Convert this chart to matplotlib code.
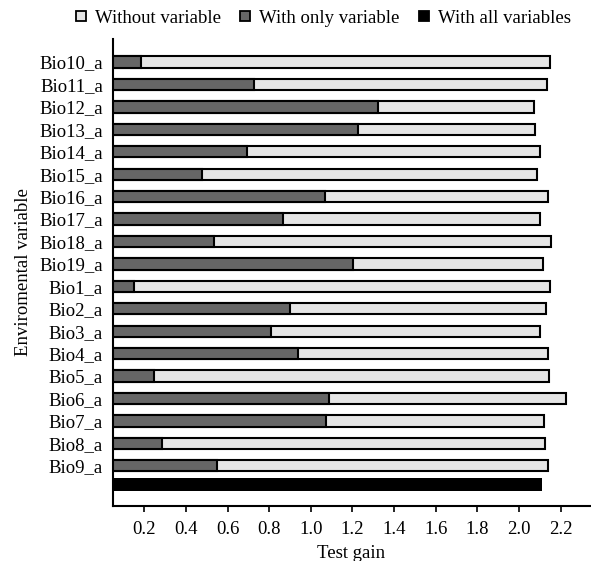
import matplotlib
matplotlib.use("Agg")
import matplotlib.pyplot as plt
from matplotlib.lines import Line2D

plt.rcParams['font.family'] = ['Liberation Serif', 'DejaVu Serif']

# data
variables = ['Bio10_a', 'Bio11_a', 'Bio12_a', 'Bio13_a', 'Bio14_a', 'Bio15_a',
             'Bio16_a', 'Bio17_a', 'Bio18_a', 'Bio19_a', 'Bio1_a', 'Bio2_a',
             'Bio3_a', 'Bio4_a', 'Bio5_a', 'Bio6_a', 'Bio7_a', 'Bio8_a', 'Bio9_a']
without_var = [2.150, 2.134, 2.071, 2.079, 2.100, 2.086, 2.141, 2.103, 2.153, 2.114,
               2.148, 2.129, 2.100, 2.140, 2.146, 2.228, 2.120, 2.125, 2.140]
only_var = [0.185, 0.727, 1.322, 1.229, 0.692, 0.476, 1.069, 0.866, 0.536, 1.204,
            0.151, 0.898, 0.808, 0.938, 0.248, 1.088, 1.072, 0.284, 0.549]
all_vars = 2.113
xticks = [0.2, 0.4, 0.6, 0.8, 1.0, 1.2, 1.4, 1.6, 1.8, 2.0, 2.2]

light = '#e5e5e5'
dark = '#666666'
fs = 13.5

fig = plt.figure(figsize=(5.91, 5.61), dpi=100)
ax = fig.add_axes([0.1907, 0.0986, 0.807, 0.832])

ypos = list(range(len(variables)))
ax.barh(ypos, without_var, height=0.5, color=light, edgecolor='black', linewidth=1.5)
ax.barh(ypos, only_var, height=0.5, color=dark, edgecolor='black', linewidth=1.5)
# bar for the full model sits a bit closer to the last row
ax.barh([18.83], [all_vars], height=0.55, color='black', edgecolor='black', linewidth=0)

ax.set_ylim(19.78, -1.03)
ax.set_xlim(0.048, 2.34)
ax.set_yticks(ypos)
ax.set_yticklabels(variables, fontsize=fs)
ax.set_xticks(xticks)
ax.set_xticklabels([f'{t:.1f}' for t in xticks], fontsize=fs)
ax.tick_params(axis='y', length=0, pad=7)
ax.tick_params(axis='x', length=4, width=1.2, pad=7, direction='out')

for s in ['top', 'right']:
    ax.spines[s].set_visible(False)
for s in ['left', 'bottom']:
    ax.spines[s].set_linewidth(1.5)

ax.set_xlabel('Test gain', fontsize=fs, labelpad=5)
ax.set_ylabel('Enviromental variable', fontsize=fs, labelpad=5)

handles = [
    Line2D([], [], marker='s', linestyle='none', markersize=7, markerfacecolor=light,
           markeredgecolor='black', markeredgewidth=1.3),
    Line2D([], [], marker='s', linestyle='none', markersize=7, markerfacecolor=dark,
           markeredgecolor='black', markeredgewidth=1.3),
    Line2D([], [], marker='s', linestyle='none', markersize=7, markerfacecolor='black',
           markeredgecolor='black', markeredgewidth=1.3),
]
fig.legend(handles, ['Without variable', 'With only variable', 'With all variables'],
           loc='center', bbox_to_anchor=(322 / 591, 1 - 18 / 561), ncol=3,
           frameon=False, fontsize=fs, handlelength=0.8, handletextpad=0.35,
           columnspacing=0.9)

fig.savefig('out.png', dpi=100)
